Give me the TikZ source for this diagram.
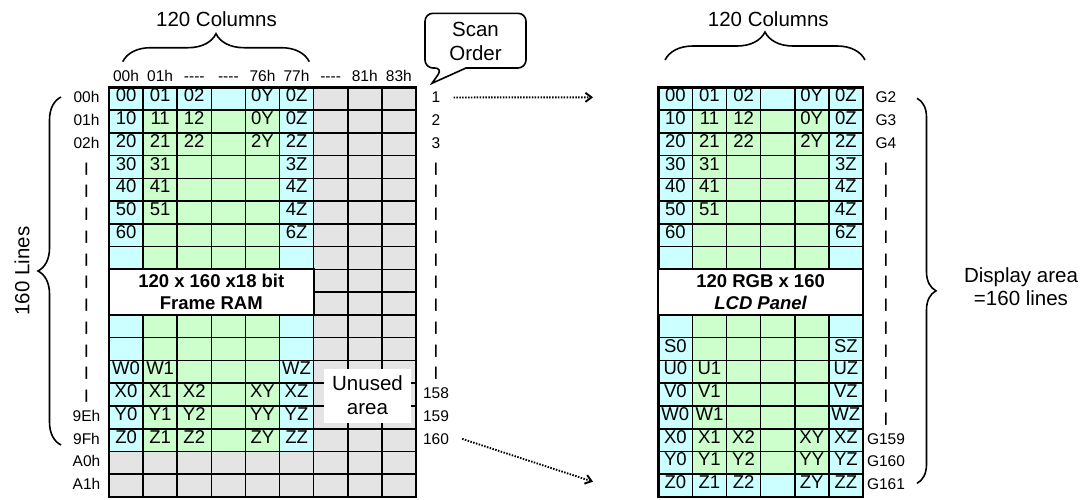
\documentclass[tikz,border=0pt]{standalone}
\usepackage{fontspec}
\setmainfont{Liberation Sans}
\usetikzlibrary{arrows.meta,decorations.pathreplacing,calc}
\definecolor{cellcyan}{HTML}{CCFFFF}
\definecolor{cellgreen}{HTML}{CCFFCC}
\definecolor{cellgray}{HTML}{E4E4E4}

\begin{document}
\begin{tikzpicture}[x=1pt, y=-1pt,
    gridline/.style={line width=1.6pt},
    gridframe/.style={line width=2.4pt},
    celltext/.style={font=\fontsize{18.5}{21.7}\selectfont, anchor=base, inner sep=0pt},
    smalltext/.style={font=\fontsize{15.5}{18}\selectfont, anchor=base, inner sep=2pt},
    bartext/.style={font=\fontsize{13}{15}\selectfont\bfseries, anchor=base, inner sep=0pt},
    bigtext/.style={font=\fontsize{20.5}{24}\selectfont, align=center, inner sep=0pt},
    titlebox/.style={draw, fill=white, line width=1.8pt, font=\fontsize{18.5}{21.7}\selectfont\bfseries, align=center, inner sep=0pt, minimum width=204.6pt, minimum height=45.52pt},
    bracket/.style={decorate, decoration={brace, amplitude=#1}, line width=1.6pt},
    scanarrow/.style={line width=1.9pt, dash pattern=on 1.5pt off 1.4pt, -{Straight Barb[length=6pt, width=9pt]}},
  ]
  % Grid geometry
  \def\rowH{22.76}
  \def\colW{34.1}
  \def\topY{87.3}
  \def\ramX{109}
  \def\lcdX{658.3}

  \useasboundingbox (0,0) rectangle (1081,499);

  % === Frame RAM (left) ===
  \fill[cellgray] (\ramX,\topY) rectangle ++({9*\colW},{18*\rowH});
  \fill[cellgreen] (\ramX,\topY) rectangle ++({6*\colW},{16*\rowH});
  \fill[cellcyan] (\ramX,\topY) rectangle ++(\colW,{16*\rowH});
  \fill[cellcyan] ({\ramX+5*\colW},\topY) rectangle ++(\colW,{16*\rowH});
  \fill[cellcyan] (\ramX,\topY) rectangle ++({6*\colW},\rowH);
  \foreach \col in {1,...,8}
    \draw[gridline] ({\ramX+\col*\colW},\topY) -- ++(0,{18*\rowH});
  \foreach \rowno in {1,...,17}
    \draw[gridline] (\ramX,{\topY+\rowno*\rowH}) -- ++({9*\colW},0);
  \draw[gridframe] (\ramX,\topY) rectangle ++({9*\colW},{18*\rowH});
  \node[titlebox] (ramtitle) at ({\ramX+3*\colW},{\topY+9*\rowH}) {120 x 160 x18 bit\\Frame RAM};
  \node[bigtext, fill=white, minimum width=87pt, minimum height=54pt] (unused) at (367.5,395.5) {Unused\\area};

  \foreach \rowno/\labels in {0/{00,01,02,,0Y,0Z}, 1/{10,11,12,,0Y,0Z}, 2/{20,21,22,,2Y,2Z},
      3/{30,31,,,,3Z}, 4/{40,41,,,,4Z}, 5/{50,51,,,,4Z}, 6/{60,,,,,6Z},
      12/{W0,W1,,,,WZ}, 13/{X0,X1,X2,,XY,XZ}, 14/{Y0,Y1,Y2,,YY,YZ}, 15/{Z0,Z1,Z2,,ZY,ZZ}}
    \foreach \txt [count=\col from 0] in \labels
      \node[celltext] (ram-\rowno-\col) at ({\ramX+(\col+0.5)*\colW},{\topY+\rowno*\rowH+14.5}) {\txt};

  % column and line addresses
  \foreach \txt [count=\col from 0] in {00h,01h,-{}-{}-{}-,-{}-{}-{}-,76h,77h,-{}-{}-{}-,81h,83h}
    \node[smalltext] (colad-\col) at ({\ramX+(\col+0.5)*\colW},81.7) {\txt};
  \foreach \txt [count=\rowno from 0] in {00h,01h,02h}
    \node[smalltext] (linead-\rowno) at (86.5,{\topY+\rowno*\rowH+15.5}) {\txt};
  \foreach \rowno in {3,...,13}
    \node[bartext] (linead-\rowno) at (86.5,{\topY+\rowno*\rowH+16.5}) {|};
  \foreach \txt [count=\rowno from 14] in {9Eh,9Fh,A0h,A1h}
    \node[smalltext] (linead-\rowno) at (86.5,{\topY+\rowno*\rowH+15.5}) {\txt};

  \node[bigtext] (ramcols) at (216.5,18.8) {120 Columns};
  \draw[bracket=28pt] (122.7,61.7) -- (309.3,61.7);
  \node[bigtext, rotate=90] (ramlines) at (22,271) {160 Lines};
  \draw[bracket=23pt] (61,445) -- (61,97);

  % === Scan order ===
  \node[bigtext] (scan) at (475.5,41.7) {Scan\\Order};
  \draw[line width=1.6pt] (442.7,68) -- (432,83.3) -- (466,68)
    [rounded corners=8pt] -- (526,68) -- (526,13.3) -- (425,13.3) -- (425,68) -- cycle;
  \foreach \txt [count=\rowno from 0] in {1,2,3}
    \node[smalltext] (scan-\rowno) at (436,{\topY+\rowno*\rowH+15.5}) {\txt};
  \foreach \rowno in {3,...,12}
    \node[bartext] (scan-\rowno) at (436,{\topY+\rowno*\rowH+16.5}) {|};
  \foreach \txt [count=\rowno from 13] in {158,159,160}
    \node[smalltext] (scan-\rowno) at (436,{\topY+\rowno*\rowH+15.5}) {\txt};

  \coordinate (firstline) at (593,97.3);
  \coordinate (lastline) at (593,481.7);
  \draw[scanarrow] ([xshift=11pt]scan-0.east) -- (firstline);
  \draw[scanarrow] ([xshift=11pt]scan-15.east) -- (lastline);

  % === LCD panel (right) ===
  \fill[cellgreen] (\lcdX,\topY) rectangle ++({6*\colW},{18*\rowH});
  \fill[cellcyan] (\lcdX,\topY) rectangle ++(\colW,{18*\rowH});
  \fill[cellcyan] ({\lcdX+5*\colW},\topY) rectangle ++(\colW,{18*\rowH});
  \fill[cellcyan] (\lcdX,\topY) rectangle ++({6*\colW},\rowH);
  \fill[cellcyan] (\lcdX,{\topY+17*\rowH}) rectangle ++({6*\colW},\rowH);
  \foreach \col in {1,...,5}
    \draw[gridline] ({\lcdX+\col*\colW},\topY) -- ++(0,{18*\rowH});
  \foreach \rowno in {1,...,17}
    \draw[gridline] (\lcdX,{\topY+\rowno*\rowH}) -- ++({6*\colW},0);
  \draw[gridframe] (\lcdX,\topY) rectangle ++({6*\colW},{18*\rowH});
  \node[titlebox] (lcdtitle) at ({\lcdX+3*\colW},{\topY+9*\rowH}) {120 RGB x 160\\\itshape LCD Panel};

  \foreach \rowno/\labels in {0/{00,01,02,,0Y,0Z}, 1/{10,11,12,,0Y,0Z}, 2/{20,21,22,,2Y,2Z},
      3/{30,31,,,,3Z}, 4/{40,41,,,,4Z}, 5/{50,51,,,,4Z}, 6/{60,,,,,6Z},
      11/{S0,,,,,SZ}, 12/{U0,U1,,,,UZ}, 13/{V0,V1,,,,VZ}, 14/{W0,W1,,,,WZ},
      15/{X0,X1,X2,,XY,XZ}, 16/{Y0,Y1,Y2,,YY,YZ}, 17/{Z0,Z1,Z2,,ZY,ZZ}}
    \foreach \txt [count=\col from 0] in \labels
      \node[celltext] (lcd-\rowno-\col) at ({\lcdX+(\col+0.5)*\colW},{\topY+\rowno*\rowH+14.5}) {\txt};

  % gate lines
  \foreach \txt [count=\rowno from 0] in {G2,G3,G4}
    \node[smalltext] (gate-\rowno) at (886,{\topY+\rowno*\rowH+15.5}) {\txt};
  \foreach \rowno in {3,...,14}
    \node[bartext] (gate-\rowno) at (886,{\topY+\rowno*\rowH+16.5}) {|};
  \foreach \txt [count=\rowno from 15] in {G159,G160,G161}
    \node[smalltext] (gate-\rowno) at (886,{\topY+\rowno*\rowH+15.5}) {\txt};

  \node[bigtext] (lcdcols) at (768.3,18.8) {120 Columns};
  \draw[bracket=28pt] (665,60) -- (865,60);
  \draw[bracket=19pt] (917,98.3) -- (917,483.3);
  \node[bigtext, font=\fontsize{20.5}{23}\selectfont] (display) at (1021,287) {Display area\\=160 lines};
\end{tikzpicture}
\end{document}
